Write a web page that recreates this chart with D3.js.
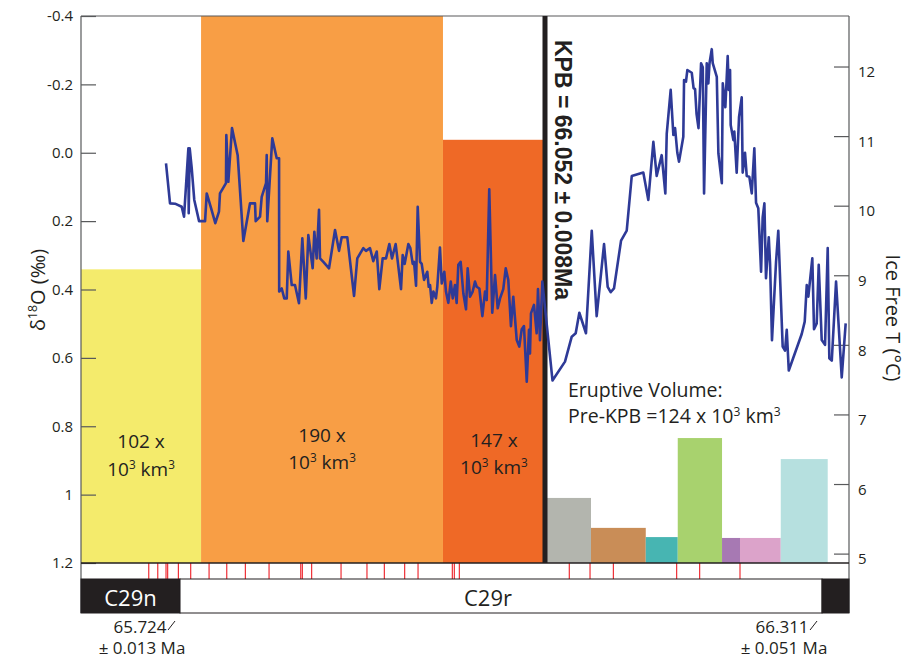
<!DOCTYPE html>
<html>
<head>
<meta charset="utf-8">
<script src="https://cdn.jsdelivr.net/npm/d3@7"></script>
<style>
  body { margin: 0; background: #fff; }
  svg text { font-family: "Open Sans", sans-serif; fill: #231f20; }
</style>
</head>
<body>
<div id="chart"></div>
<script>
//*********************** DATA ***********************
// benthic d18O record, age in Ma
var ages = [65.7114,65.7150,65.7195,65.7255,65.7276,65.7315,65.7318,65.7327,65.7345,65.7368,
  65.7411,65.7465,65.7480,65.7519,65.7557,65.7590,65.7599,65.7653,65.7656,65.7674,
  65.7707,65.7758,65.7809,65.7869,65.7914,65.7920,65.7959,65.7974,65.8013,65.8019,
  65.8024,65.8069,65.8109,65.8130,65.8131,65.8154,65.8177,65.8199,65.8213,65.8244,
  65.8273,65.8309,65.8339,65.8370,65.8393,65.8432,65.8447,65.8468,65.8489,65.8498,
  65.8528,65.8579,65.8633,65.8669,65.8693,65.8743,65.8804,65.8833,65.8887,65.8911,
  65.8947,65.8977,65.9008,65.9031,65.9061,65.9091,65.9121,65.9145,65.9178,65.9226,
  65.9241,65.9259,65.9292,65.9310,65.9331,65.9343,65.9361,65.9376,65.9397,65.9412,
  65.9433,65.9462,65.9475,65.9487,65.9502,65.9517,65.9540,65.9552,65.9576,65.9592,
  65.9615,65.9630,65.9651,65.9673,65.9691,65.9711,65.9726,65.9741,65.9762,65.9786,
  65.9810,65.9825,65.9846,65.9870,65.9891,65.9906,65.9930,65.9957,65.9981,65.9996,
  66.0019,66.0046,66.0071,66.0095,66.0116,66.0145,66.0167,66.0190,66.0214,66.0235,
  66.0266,66.0289,66.0311,66.0331,66.0356,66.0376,66.0385,66.0394,66.0421,66.0445,
  66.0457,66.0475,66.0496,66.0590,66.0707,66.0770,66.0807,66.0841,66.0903,66.0957,
  66.1003,66.1072,66.1106,66.1134,66.1165,66.1231,66.1284,66.1331,66.1439,66.1486,
  66.1533,66.1564,66.1611,66.1645,66.1658,66.1695,66.1720,66.1736,66.1757,66.1773,
  66.1813,66.1820,66.1838,66.1851,66.1892,66.1909,66.1923,66.1937,66.1955,66.1979,
  66.1995,66.2007,66.2032,66.2047,66.2058,66.2079,66.2088,66.2126,66.2141,66.2173,
  66.2182,66.2206,66.2228,66.2238,66.2250,66.2256,66.2281,66.2290,66.2312,66.2334,
  66.2359,66.2368,66.2390,66.2406,66.2430,66.2453,66.2477,66.2493,66.2514,66.2540,
  66.2555,66.2571,66.2586,66.2612,66.2624,66.2642,66.2680,66.2701,66.2742,66.2764,
  66.2780,66.2799,66.2920,66.2948,66.2967,66.2982,66.3019,66.3035,66.3060,66.3079,
  66.3107,66.3138,66.3163,66.3178,66.3201,66.3241,66.3294,66.3331];
var d18O = [0.031,0.148,0.149,0.158,0.187,-0.013,0.177,-0.013,0.045,0.138,
  0.200,0.200,0.119,0.162,0.206,0.172,0.119,0.089,-0.052,0.085,
  -0.072,0.007,0.258,0.148,0.148,0.200,0.187,0.129,0.089,0.007,
  0.200,-0.042,0.016,0.016,0.406,0.397,0.426,0.426,0.289,0.387,
  0.387,0.440,0.250,0.426,0.241,0.338,0.231,0.309,0.167,0.309,
  0.319,0.338,0.226,0.287,0.247,0.247,0.419,0.309,0.279,0.287,
  0.279,0.317,0.289,0.399,0.309,0.309,0.267,0.309,0.267,0.399,
  0.299,0.325,0.267,0.279,0.325,0.319,0.389,0.158,0.319,0.325,
  0.372,0.348,0.392,0.387,0.439,0.406,0.426,0.392,0.277,0.382,
  0.348,0.406,0.439,0.377,0.426,0.387,0.439,0.328,0.319,0.411,
  0.458,0.338,0.421,0.406,0.377,0.392,0.397,0.478,0.406,0.431,
  0.107,0.468,0.358,0.455,0.426,0.399,0.338,0.372,0.507,0.421,
  0.548,0.567,0.516,0.507,0.670,0.518,0.587,0.470,0.445,0.528,
  0.399,0.548,0.377,0.666,0.611,0.538,0.528,0.468,0.528,0.228,
  0.478,0.267,0.392,0.408,0.397,0.257,0.228,0.068,0.058,0.138,
  -0.032,0.068,0.007,0.119,-0.055,-0.184,-0.052,-0.072,0.000,0.026,
  -0.047,-0.213,-0.208,-0.242,-0.234,-0.189,-0.186,-0.113,-0.072,-0.262,
  -0.250,0.119,-0.262,-0.203,-0.262,-0.303,-0.262,-0.222,0.002,0.089,
  -0.203,-0.133,-0.283,-0.184,-0.242,-0.081,-0.037,-0.062,0.058,-0.105,
  -0.162,0.058,0.000,0.068,0.070,0.119,-0.013,0.146,0.162,0.348,
  0.189,0.148,0.367,0.247,0.323,0.548,0.319,0.228,0.567,0.579,
  0.518,0.637,0.530,0.494,0.387,0.421,0.309,0.516,0.499,0.328,
  0.548,0.562,0.279,0.601,0.608,0.377,0.657,0.499];

// dated ash beds (Ma)
var ashAges = [65.6959,65.7040,65.7114,65.7129,65.7225,65.7336,65.7501,65.7660,65.7827,65.8040,
  65.8325,65.8339,65.8423,65.8687,65.8920,65.9076,65.9259,65.9379,65.9687,65.9705,65.9750,
  66.0747,66.0941,66.1159,66.1751,66.1966,66.2343];

// eruptive pulses after KPB (10^3 km^3)
var pulseStart = [65.635, 65.7429, 65.9603];
var pulseEnd = [65.7429, 65.9603, 66.052];
var pulseVol = [102, 190, 147];
var pulseColors = ["#f4eb6c", "#f89e45", "#ef6926"];

// eruptive volume before KPB (10^3 km^3)
var preStart = [66.052, 66.0950, 66.1462, 66.1761, 66.2175, 66.2343, 66.2724];
var preEnd = [66.0950, 66.1462, 66.1761, 66.2175, 66.2343, 66.2724, 66.3163];
var preVol = [22.6, 12.2, 9.0, 43.4, 8.7, 8.7, 36.1];
var preColors = ["#b3b5ae", "#c98d57", "#47b5b2", "#a8d26e", "#a779b3", "#dca3ca", "#b6e0df"];
var preTotal = 124;

// magnetic chrons
var chronBounds = [65.635, 65.724, 66.311, 66.3362];
var chronFill = ["#231f20", "#ffffff", "#231f20"];
var chronNames = ["C29n", "C29r", ""];
var chronAges = [65.724, 66.311];
var chronErr = [0.013, 0.051];

var kpbAge = 66.052, kpbErr = 0.008;

var leftTicks = [-0.4, -0.2, 0, 0.2, 0.4, 0.6, 0.8, 1, 1.2];
var leftTickLabels = ["-0.4", "-0.2", "0.0", "0.2", "0.4", "0.6", "0.8", "1", "1.2"];
var rightTicks = [5, 6, 7, 8, 9, 10, 11, 12];

//*********************** DECLARE VARIABLES ***********************
var width = 907,
    height = 660,
    plotLeft = 81,
    plotRight = 849,
    plotTop = 16,
    plotBottom = 563,
    stripBottom = 579,
    chronBottom = 613,
    axisColor = "#58595b";

var xScale = d3.scaleLinear().domain([65.635, kpbAge, 66.3362]).range([plotLeft, 545, plotRight]),
    yScale = d3.scaleLinear().domain([-0.4, 1.2]).range([plotTop, plotBottom]),
    tScale = d3.scaleLinear().domain([12.726, 4.865]).range([plotTop, plotBottom]),
    volScale = d3.scaleLinear().domain([0, 190]).range([plotBottom, plotTop]);

var svg = d3.select("#chart").append("svg")
    .attr("width", width)
    .attr("height", height);

// text with superscript parts: [[text, isSup], ...]
function richText(sel, parts, size) {
  var shifted = false;
  parts.forEach(function(p) {
    var t = sel.append("tspan").text(p[0]);
    if (p[1]) {
      t.attr("font-size", size * 0.62).attr("dy", -size * 0.38);
      shifted = true;
    } else {
      t.attr("font-size", size);
      if (shifted) { t.attr("dy", size * 0.38); shifted = false; }
    }
  });
  return sel;
}

//*********************** VOLUME BLOCKS ***********************
svg.append("g").selectAll("rect")
    .data(pulseVol)
    .enter().append("rect")
    .attr("x", function(d, i) { return xScale(pulseStart[i]); })
    .attr("width", function(d, i) { return xScale(pulseEnd[i]) - xScale(pulseStart[i]); })
    .attr("y", function(d) { return volScale(d); })
    .attr("height", function(d) { return plotBottom - volScale(d); })
    .attr("fill", function(d, i) { return pulseColors[i]; });

svg.append("g").selectAll("rect")
    .data(preVol)
    .enter().append("rect")
    .attr("x", function(d, i) { return xScale(preStart[i]); })
    .attr("width", function(d, i) { return xScale(preEnd[i]) - xScale(preStart[i]); })
    .attr("y", function(d) { return volScale(d); })
    .attr("height", function(d) { return plotBottom - volScale(d); })
    .attr("fill", function(d, i) { return preColors[i]; });

// block labels
var labelRows = [[448, 476], [442, 469], [447, 474]];
pulseVol.forEach(function(v, i) {
  var cx = (xScale(pulseStart[i]) + xScale(pulseEnd[i])) / 2;
  svg.append("text")
      .attr("x", cx).attr("y", labelRows[i][0])
      .attr("text-anchor", "middle")
      .attr("font-size", 19)
      .text(v + " x");
  richText(svg.append("text")
      .attr("x", cx).attr("y", labelRows[i][1])
      .attr("text-anchor", "middle"),
      [["10", false], ["3", true], [" km", false], ["3", true]], 19);
});

svg.append("text")
    .attr("x", 568).attr("y", 397)
    .attr("font-size", 19.5)
    .text("Eruptive Volume:");
richText(svg.append("text").attr("x", 568).attr("y", 423),
    [["Pre-KPB =" + preTotal + " x 10", false], ["3", true], [" km", false], ["3", true]], 19.5);

//*********************** FRAME AND AXES ***********************
var frame = svg.append("g")
    .attr("stroke", axisColor)
    .attr("stroke-width", 1.2);

frame.append("line").attr("x1", plotLeft).attr("x2", plotRight).attr("y1", plotTop).attr("y2", plotTop);
frame.append("line").attr("x1", plotLeft).attr("x2", plotLeft).attr("y1", plotTop).attr("y2", chronBottom);
frame.append("line").attr("x1", plotRight).attr("x2", plotRight).attr("y1", plotTop).attr("y2", chronBottom);

var yAxis = d3.axisLeft(yScale)
    .tickValues(leftTicks)
    .tickFormat(function(d, i) { return leftTickLabels[i]; })
    .tickSizeInner(-15)
    .tickSizeOuter(0)
    .tickPadding(8);

var tAxis = d3.axisRight(tScale)
    .tickValues(rightTicks)
    .tickSizeInner(-15)
    .tickSizeOuter(0)
    .tickPadding(9);

var gy = svg.append("g")
    .attr("transform", "translate(" + plotLeft + ",0)")
    .call(yAxis);
var gt = svg.append("g")
    .attr("transform", "translate(" + plotRight + ",0)")
    .call(tAxis);

[gy, gt].forEach(function(g) {
  g.select(".domain").remove();
  g.selectAll(".tick line").attr("stroke", axisColor).attr("stroke-width", 1.2);
  g.selectAll(".tick text")
      .attr("font-family", "Open Sans, sans-serif")
      .attr("font-size", 15)
      .attr("fill", "#231f20");
});
gt.selectAll(".tick text").attr("dy", "0.68em");

// axis titles
richText(svg.append("text")
    .attr("transform", "translate(45,290) rotate(-90)")
    .attr("text-anchor", "middle"),
    [["δ", false], ["18", true], ["O (‰)", false]], 20);

svg.append("text")
    .attr("transform", "translate(886,318) rotate(90)")
    .attr("text-anchor", "middle")
    .attr("font-size", 20)
    .text("Ice Free T (°C)");

//*********************** ASH BEDS AND CHRONS ***********************
svg.append("g").selectAll("line")
    .data(ashAges)
    .enter().append("line")
    .attr("x1", function(d) { return xScale(d); })
    .attr("x2", function(d) { return xScale(d); })
    .attr("y1", plotBottom)
    .attr("y2", stripBottom)
    .attr("stroke", "#ed1c24")
    .attr("stroke-width", 1.1);

svg.append("g").selectAll("rect")
    .data(chronFill)
    .enter().append("rect")
    .attr("x", function(d, i) { return xScale(chronBounds[i]); })
    .attr("width", function(d, i) { return xScale(chronBounds[i + 1]) - xScale(chronBounds[i]); })
    .attr("y", stripBottom)
    .attr("height", chronBottom - stripBottom)
    .attr("fill", function(d) { return d; })
    .attr("stroke", "#231f20")
    .attr("stroke-width", 1);

svg.append("text")
    .attr("x", (xScale(chronBounds[0]) + xScale(chronBounds[1])) / 2)
    .attr("y", 606)
    .attr("text-anchor", "middle")
    .attr("font-size", 22)
    .style("fill", "#ffffff")
    .text(chronNames[0]);

svg.append("text")
    .attr("x", 488)
    .attr("y", 606)
    .attr("text-anchor", "middle")
    .attr("font-size", 22)
    .text(chronNames[1]);

svg.append("line")
    .attr("x1", plotLeft).attr("x2", plotRight)
    .attr("y1", plotBottom).attr("y2", plotBottom)
    .attr("stroke", "#231f20").attr("stroke-width", 1.6);

chronAges.forEach(function(a, i) {
  var bx = xScale(a);
  svg.append("text")
      .attr("x", bx - 40).attr("y", 633)
      .attr("text-anchor", "middle")
      .attr("font-size", 17)
      .text(a.toFixed(3));
  svg.append("text")
      .attr("x", bx - 38).attr("y", 654)
      .attr("text-anchor", "middle")
      .attr("font-size", 17)
      .text("± " + chronErr[i].toFixed(3) + " Ma");
  svg.append("line")
      .attr("x1", bx - 12).attr("y1", 630)
      .attr("x2", bx - 5).attr("y2", 621)
      .attr("stroke", "#231f20").attr("stroke-width", 1);
});

//*********************** d18O LINE AND KPB ***********************
var line = d3.line()
    .x(function(d, i) { return xScale(ages[i]); })
    .y(function(d) { return yScale(d); });

svg.append("line")
    .attr("x1", xScale(kpbAge)).attr("x2", xScale(kpbAge))
    .attr("y1", plotTop).attr("y2", plotBottom)
    .attr("stroke", "#231f20")
    .attr("stroke-width", 5);

svg.append("path").datum(d18O)
    .attr("d", line)
    .attr("fill", "none")
    .attr("stroke", "#2e3a97")
    .attr("stroke-width", 2.6)
    .attr("stroke-linejoin", "round");

svg.append("text")
    .attr("transform", "translate(555,40) rotate(90)")
    .attr("font-weight", "bold")
    .attr("font-size", 23)
    .style("font-family", "'Liberation Sans', Arial, sans-serif")
    .text("KPB = " + kpbAge.toFixed(3) + " ± " + kpbErr.toFixed(3) + "Ma");
</script>
</body>
</html>
